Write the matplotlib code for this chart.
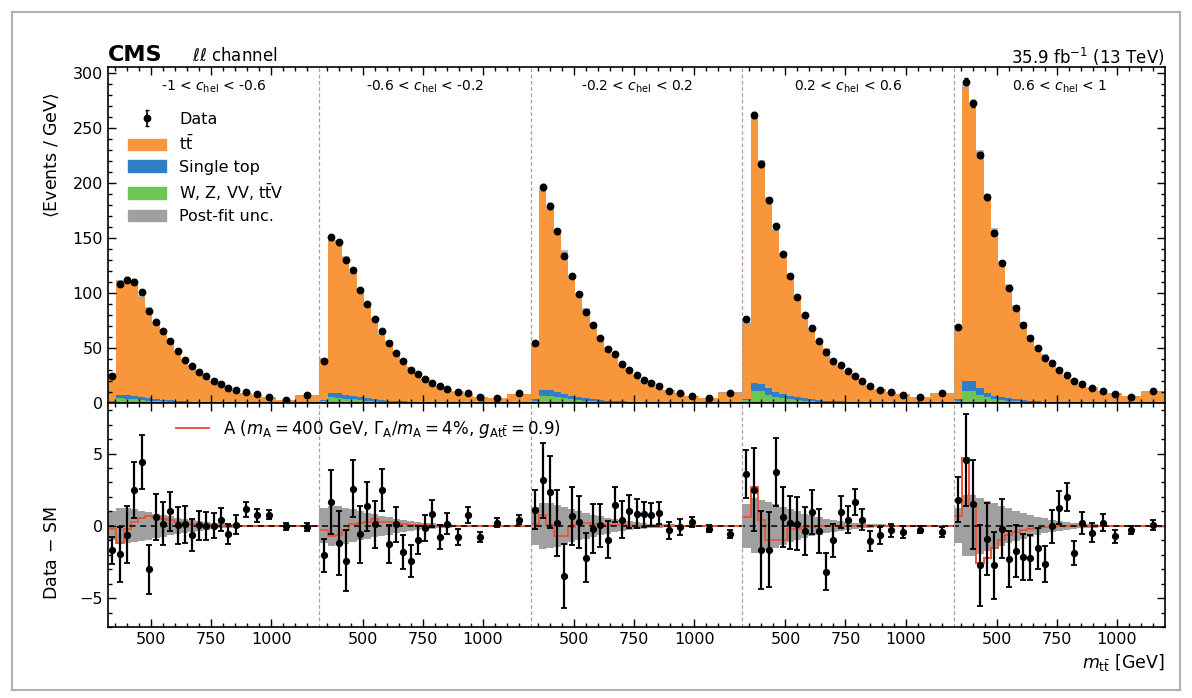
import numpy as np
import matplotlib
matplotlib.use("Agg")
import matplotlib.pyplot as plt
from matplotlib.patches import Patch, Rectangle
from matplotlib.lines import Line2D

# ---------------- data ----------------
edges_gev = [320, 355, 385, 415, 445, 475, 505, 535, 565, 595, 625, 655, 685,
             715, 745, 775, 805, 835, 870, 920, 960, 1020, 1100, 1200]
panel_labels = [r"-1 < $c_\mathrm{hel}$ < -0.6", r"-0.6 < $c_\mathrm{hel}$ < -0.2",
                r"-0.2 < $c_\mathrm{hel}$ < 0.2", r"0.2 < $c_\mathrm{hel}$ < 0.6",
                r"0.6 < $c_\mathrm{hel}$ < 1"]
xtick_values = [500, 750, 1000]

# observed data (Events / GeV)
data = [
    [24.2, 108.4, 112.0, 110.2, 101.1, 83.5, 73.7, 65.2, 56.1, 47.0, 39.4, 33.3, 27.8, 24.2, 20.2, 17.5, 13.5, 11.4, 9.9, 8.0, 5.9, 2.9, 7.5],
    [37.9, 150.4, 145.8, 130.0, 120.6, 102.4, 89.6, 76.5, 65.2, 54.6, 45.4, 37.9, 30.3, 26.3, 22.1, 18.1, 15.1, 12.6, 9.6, 9.0, 5.0, 4.4, 9.0],
    [54.6, 196.0, 178.7, 155.8, 133.7, 115.4, 99.3, 82.8, 70.4, 59.1, 49.4, 44.5, 35.4, 30.3, 25.7, 20.5, 17.8, 15.1, 11.1, 8.7, 6.6, 4.4, 9.0],
    [75.9, 261.4, 216.7, 183.9, 160.4, 135.2, 115.1, 96.3, 79.6, 68.2, 56.1, 46.1, 38.5, 34.2, 28.7, 24.8, 19.6, 15.1, 12.0, 9.9, 7.5, 5.0, 9.0],
    [69.2, 291.8, 272.1, 224.9, 186.9, 154.4, 127.0, 104.7, 86.5, 70.7, 58.6, 50.0, 40.9, 36.3, 30.3, 25.7, 19.6, 17.2, 13.5, 11.1, 8.0, 5.9, 11.1],
]
# data uncertainty (Events / GeV)
data_err = [
    [0.95, 1.9, 1.97, 1.93, 1.89, 1.68, 1.6, 1.5, 1.35, 1.27, 1.27, 1.1, 1.0, 0.96, 0.87, 0.78, 0.7, 0.64, 0.52, 0.46, 0.34, 0.26, 0.29],
    [1.16, 2.2, 2.2, 2.1, 2.0, 1.97, 1.68, 1.6, 1.45, 1.33, 1.2, 1.16, 1.08, 0.98, 0.9, 0.93, 0.81, 0.72, 0.58, 0.56, 0.35, 0.29, 0.31],
    [1.33, 2.6, 2.5, 2.3, 2.2, 2.0, 1.8, 1.68, 1.7, 1.47, 1.3, 1.2, 1.27, 1.16, 1.0, 0.87, 0.81, 0.73, 0.58, 0.52, 0.35, 0.25, 0.28],
    [1.65, 2.9, 2.7, 2.6, 2.37, 2.1, 1.83, 1.85, 1.65, 1.54, 1.53, 1.27, 1.13, 1.1, 0.93, 0.93, 0.75, 0.7, 0.6, 0.46, 0.39, 0.26, 0.32],
    [1.54, 3.16, 3.07, 2.8, 2.5, 2.3, 2.05, 1.94, 1.8, 1.57, 1.56, 1.42, 1.24, 1.13, 1.12, 0.98, 0.83, 0.75, 0.65, 0.59, 0.44, 0.28, 0.35],
]
# Data - SM
data_minus_sm = [
    [-1.7, -1.98, -0.61, 2.46, 4.43, -3.02, 0.61, 0.15, 1.0, 0.03, 0.1, -0.61, 0.03, 0.0, 0.0, 0.43, -0.59, 0.08, 1.15, 0.73, 0.78, -0.03, -0.08],
    [-2.05, 1.65, -1.19, -2.4, 2.58, -0.59, 1.35, 0.1, 2.5, -1.24, 0.1, -1.8, -2.44, -1.0, -0.15, 0.85, -0.78, 0.15, -0.78, 0.73, -0.78, 0.22, 0.43],
    [1.12, 3.16, 2.35, 0.2, -3.48, 0.66, 0.27, -2.2, -0.2, 0.03, -0.96, 1.47, 0.43, 1.0, 0.85, 0.8, 0.78, 0.89, -0.31, -0.08, 0.27, -0.2, -0.54],
    [3.57, 2.51, -1.65, -1.65, 3.74, 0.61, 0.22, 0.15, -0.36, 0.96, -0.38, -3.16, -1.0, 0.96, 0.43, 1.65, 0.43, -1.07, -0.66, -0.31, -0.43, -0.27, -0.43],
    [1.82, 4.55, 1.49, -2.74, -0.89, -2.74, -0.2, -2.28, -1.75, -2.16, -2.2, -1.54, -2.62, -0.03, 1.26, 2.0, -1.87, 0.2, -0.47, 0.2, -0.73, -0.31, 0.03],
]
# single top and W, Z, VV, ttV contributions (Events / GeV)
single_top = [
    [1.0, 3.4, 3.4, 3.0, 2.6, 2.2, 1.9, 1.6, 1.3, 1.1, 0.9, 0.75, 0.6, 0.5, 0.4, 0.35, 0.3, 0.25, 0.2, 0.15, 0.12, 0.08, 0.06],
    [1.2, 4.0, 4.0, 3.5, 3.0, 2.6, 2.2, 1.8, 1.5, 1.2, 1.0, 0.85, 0.7, 0.55, 0.45, 0.4, 0.32, 0.27, 0.2, 0.16, 0.12, 0.08, 0.06],
    [1.5, 5.2, 5.0, 4.4, 3.8, 3.2, 2.7, 2.2, 1.8, 1.5, 1.2, 1.0, 0.8, 0.65, 0.55, 0.45, 0.38, 0.3, 0.24, 0.18, 0.14, 0.1, 0.07],
    [1.5, 7.0, 6.5, 5.8, 4.8, 4.0, 3.3, 2.7, 2.2, 1.8, 1.5, 1.2, 1.0, 0.8, 0.65, 0.52, 0.42, 0.34, 0.26, 0.2, 0.15, 0.1, 0.07],
    [1.8, 9.0, 9.0, 6.0, 4.0, 3.2, 2.7, 2.2, 1.8, 1.4, 1.1, 0.9, 0.72, 0.58, 0.47, 0.38, 0.3, 0.24, 0.18, 0.14, 0.1, 0.07, 0.05],
]
other_bkg = [
    [1.2, 4.2, 4.0, 3.3, 2.7, 2.1, 1.7, 1.4, 1.1, 0.9, 0.7, 0.55, 0.45, 0.35, 0.3, 0.25, 0.2, 0.15, 0.12, 0.1, 0.08, 0.05, 0.04],
    [1.5, 5.0, 4.8, 4.0, 3.2, 2.5, 2.0, 1.6, 1.3, 1.0, 0.8, 0.65, 0.5, 0.4, 0.35, 0.3, 0.25, 0.2, 0.15, 0.12, 0.1, 0.06, 0.05],
    [2.0, 6.8, 6.5, 5.3, 4.2, 3.3, 2.6, 2.1, 1.7, 1.3, 1.0, 0.8, 0.65, 0.5, 0.4, 0.35, 0.3, 0.25, 0.2, 0.15, 0.12, 0.08, 0.06],
    [2.5, 11.0, 10.5, 7.5, 5.5, 4.2, 3.3, 2.6, 2.0, 1.6, 1.3, 1.0, 0.8, 0.65, 0.5, 0.4, 0.35, 0.3, 0.22, 0.18, 0.14, 0.1, 0.07],
    [2.0, 11.0, 11.0, 7.5, 5.0, 3.5, 2.5, 2.0, 1.5, 1.1, 0.9, 0.7, 0.55, 0.45, 0.35, 0.3, 0.25, 0.2, 0.15, 0.12, 0.1, 0.07, 0.05],
]
# post-fit uncertainty (half width, Events / GeV)
postfit_unc = [
    [1.0, 1.2, 1.2, 1.15, 1.05, 0.95, 0.85, 0.75, 0.65, 0.55, 0.47, 0.4, 0.33, 0.27, 0.22, 0.18, 0.15, 0.12, 0.09, 0.07, 0.05, 0.04, 0.03],
    [1.2, 1.4, 1.35, 1.25, 1.15, 1.0, 0.9, 0.8, 0.7, 0.6, 0.5, 0.42, 0.35, 0.28, 0.23, 0.19, 0.15, 0.12, 0.09, 0.07, 0.05, 0.04, 0.03],
    [1.3, 1.6, 1.55, 1.45, 1.3, 1.15, 1.0, 0.88, 0.76, 0.65, 0.55, 0.46, 0.38, 0.31, 0.25, 0.2, 0.16, 0.13, 0.1, 0.07, 0.05, 0.04, 0.03],
    [1.5, 1.9, 1.8, 1.65, 1.5, 1.3, 1.15, 1.0, 0.85, 0.72, 0.6, 0.5, 0.41, 0.33, 0.27, 0.22, 0.18, 0.14, 0.1, 0.08, 0.06, 0.04, 0.03],
    [1.2, 2.1, 2.1, 1.95, 1.75, 1.55, 1.38, 1.2, 1.05, 0.9, 0.76, 0.63, 0.52, 0.42, 0.34, 0.27, 0.21, 0.17, 0.12, 0.09, 0.06, 0.04, 0.03],
]
# signal A (m_A = 400 GeV) relative to SM
signal_A = [
    [-0.2, -1.2, -0.2, 0.3, 0.55, 0.7, 0.6, 0.5, 0.4, 0.3, 0.2, 0.12, 0.08, 0.05, 0.03, 0.02, 0.01, 0.0, 0.0, 0.0, 0.0, 0.0, 0.0],
    [-0.3, -0.7, -0.6, -0.3, 0.1, 0.2, 0.25, 0.45, 0.3, 0.3, 0.2, 0.12, 0.08, 0.05, 0.03, 0.02, 0.01, 0.0, 0.0, 0.0, 0.0, 0.0, 0.0],
    [0.1, 0.75, 0.05, -0.7, -0.7, -0.1, 0.15, 0.2, 0.15, 0.1, 0.08, 0.05, 0.03, 0.02, 0.01, 0.0, 0.0, 0.0, 0.0, 0.0, 0.0, 0.0, 0.0],
    [0.6, 2.7, 0.4, -1.0, -1.0, -1.0, -0.25, -0.2, -0.1, -0.05, -0.03, -0.02, 0.0, 0.0, 0.0, 0.0, 0.0, 0.0, 0.0, 0.0, 0.0, 0.0, 0.0],
    [0.7, 4.7, 1.5, -2.6, -2.2, -1.5, -1.0, -0.65, -0.45, -0.3, -0.2, -0.15, -0.1, -0.05, -0.02, 0.0, 0.0, 0.0, 0.0, 0.0, 0.0, 0.0, 0.0],
]

# ---------------- style ----------------
c_tt = "#F7963A"
c_st = "#2F7FC6"
c_oth = "#6CC650"
c_unc = "#A0A0A0"
c_sig = "#E8583C"
c_sep = "#B89A9A"

W, H = 1192, 698
fig = plt.figure(figsize=(W / 100, H / 100), dpi=100)
fig.patches.append(Rectangle((12 / W, 8 / H), (1180 - 12) / W, (690 - 12) / H,
                             transform=fig.transFigure, fill=False,
                             edgecolor="#B0B0B0", lw=1.5))

x0, x1 = 108, 1165
ax1 = fig.add_axes([x0 / W, 1 - 403 / H, (x1 - x0) / W, (403 - 67) / H])
ax2 = fig.add_axes([x0 / W, 1 - 627 / H, (x1 - x0) / W, (627 - 403) / H])

lo, hi = edges_gev[0], edges_gev[-1]
span = hi - lo
edges = np.array(edges_gev, dtype=float)
centers_gev = 0.5 * (edges[1:] + edges[:-1])

h_data = None
for k in range(5):
    off = k * span - lo
    e = edges + off
    cx = centers_gev + off
    d = np.array(data[k])
    dm = np.array(data_minus_sm[k])
    err = np.array(data_err[k])
    st = np.array(single_top[k])
    ot = np.array(other_bkg[k])
    unc = np.array(postfit_unc[k])
    sig = np.array(signal_A[k])
    sm = d - dm

    ax1.stairs(sm, e, baseline=0, fill=True, color=c_tt, lw=0, zorder=1)
    ax1.stairs(ot + st, e, baseline=0, fill=True, color=c_st, lw=0, zorder=1.1)
    ax1.stairs(ot, e, baseline=0, fill=True, color=c_oth, lw=0, zorder=1.2)
    ax1.stairs(sm + unc, e, baseline=sm - unc, fill=True, color=c_unc,
               alpha=0.7, lw=0, zorder=1.3)
    h = ax1.errorbar(cx, d, yerr=err, fmt="o", color="k", ms=4.6,
                     elinewidth=1.2, capsize=1.5, zorder=3)
    if k == 0:
        h_data = h

    ax2.stairs(unc, e, baseline=-unc, fill=True, color=c_unc, lw=0, zorder=1)
    ax2.stairs(sig, e, baseline=None, color=c_sig, lw=1.4, zorder=2)
    ax2.errorbar(cx, dm, yerr=err, fmt="o", color="k", ms=4.2,
                 elinewidth=1.6, capsize=2.0, capthick=1.3, zorder=3)

for ax in (ax1, ax2):
    for k in range(1, 5):
        ax.axvline(k * span, color=c_sep, ls=(0, (3, 2)), lw=0.9, zorder=2.5)
    ax.set_xlim(0, 5 * span)
    major = [k * span + v - lo for k in range(5) for v in xtick_values]
    minor = [k * span + v - lo for k in range(5) for v in range(350, 1200, 50)]
    ax.set_xticks(major)
    ax.set_xticks(minor, minor=True)
    ax.tick_params(which="both", direction="in", top=True, right=True,
                   labelsize=11.5, width=1.0)
    ax.tick_params(which="major", length=6)
    ax.tick_params(which="minor", length=3)
    for s in ax.spines.values():
        s.set_linewidth(1.2)

ax1.set_xticklabels([])
ax2.set_xticklabels([str(v) for k in range(5) for v in xtick_values])

ax1.set_ylim(0, 305)
ax1.set_yticks(np.arange(0, 301, 50))
ax1.set_yticks(np.arange(0, 305, 10), minor=True)
ax2.axhline(0, color="k", ls=(0, (4, 3)), lw=1.1, zorder=2.2)
ax2.set_ylim(-7, 8.5)
ax2.set_yticks([-5, 0, 5])
ax2.set_yticks(np.arange(-7, 9, 1), minor=True)

for k in range(5):
    ax1.text(k * span + span / 2, 287, panel_labels[k], ha="center",
             va="center", fontsize=10)

ax1.set_ylabel(r"$\langle$Events / GeV$\rangle$", fontsize=12.5)
ax1.yaxis.set_label_coords((61 - x0) / (x1 - x0), (403 - 155) / 336)
ax2.set_ylabel(r"Data $-$ SM", fontsize=12.5)
ax2.yaxis.set_label_coords((61 - x0) / (x1 - x0), (627 - 553) / 224)
ax2.set_xlabel(r"$m_{\mathrm{t\bar{t}}}$ [GeV]", fontsize=12.5, loc="right",
               labelpad=4)

handles = [h_data, Patch(color=c_tt), Patch(color=c_st), Patch(color=c_oth),
           Patch(color=c_unc)]
labels = ["Data", r"t$\bar{\mathrm{t}}$", "Single top",
          r"W, Z, VV, t$\bar{\mathrm{t}}$V", "Post-fit unc."]
ax1.legend(handles, labels, loc="upper left",
           bbox_to_anchor=((128 - x0) / (x1 - x0), (403 - 112) / 336),
           frameon=False, fontsize=11.5, borderpad=0, borderaxespad=0,
           handlelength=2.4, handletextpad=0.8, labelspacing=0.42)

ax2.legend([Line2D([], [], color=c_sig, lw=1.4)],
           [r"A ($m_\mathrm{A} = 400$ GeV, $\Gamma_\mathrm{A}/m_\mathrm{A} = 4\%$, $g_\mathrm{At\bar{t}} = 0.9$)"],
           loc="upper left",
           bbox_to_anchor=((176 - x0) / (x1 - x0), (627 - 418) / 224),
           frameon=False, fontsize=12, borderpad=0, borderaxespad=0,
           handlelength=2.0, handletextpad=0.8)

fig.text(x0 / W, 1 - 55 / H, "CMS", fontsize=16, fontweight="bold",
         va="center", ha="left")
fig.text(192 / W, 1 - 56 / H, r"$\ell\ell$ channel", fontsize=12,
         va="center", ha="left")
fig.text(x1 / W, 1 - 57 / H, r"35.9 fb$^{-1}$ (13 TeV)", fontsize=12,
         va="center", ha="right")

fig.savefig("out.png", dpi=100)
